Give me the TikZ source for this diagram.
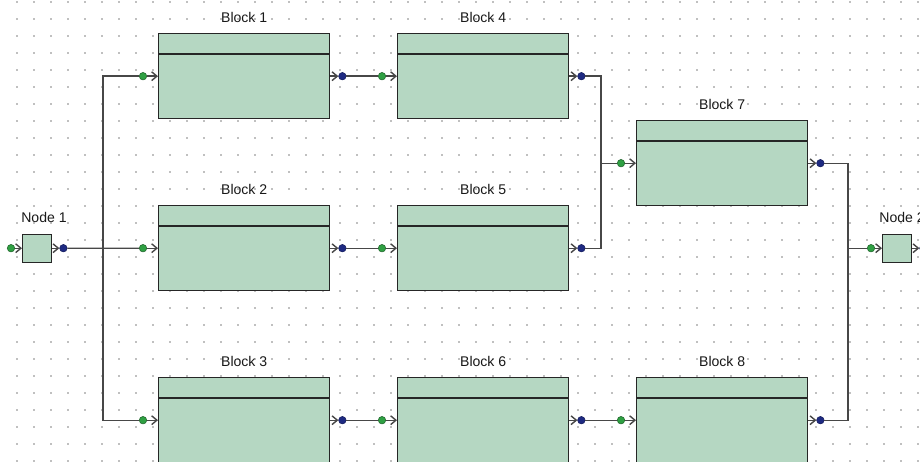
\documentclass[tikz,border=0pt]{standalone}
\usepackage{fontspec}
\setmainfont{Liberation Sans}
\usetikzlibrary{arrows.meta}
\definecolor{blockfill}{HTML}{B5D7C2}
\definecolor{wirec}{HTML}{474747}
\definecolor{inport}{HTML}{2FA043}
\definecolor{outport}{HTML}{1E2A82}
\definecolor{griddot}{HTML}{808080}
\newcommand{\rbdblock}[4]{%
  \node[blk, anchor=north west] (#1) at (#2,#3) {};
  \draw[divline] ([yshift=-0.42cm]#1.north west) -- ([yshift=-0.42cm]#1.north east);
  \node[lbl] (#1lbl) at ([yshift=0.32cm]#1.north) {#4};
  \node[indot] (#1in) at ([xshift=-0.30cm]#1.west) {};
  \node[outdot] (#1out) at ([xshift=0.24cm]#1.east) {};
  \draw[wire, -{Straight Barb[length=3pt,width=5pt]}] (#1in) -- (#1.west);
  \draw[wire, -{Straight Barb[length=3pt,width=5pt]}] (#1.east) -- (#1out);
}
\begin{document}
\begin{tikzpicture}[x=0.02cm, y=-0.02cm,
  blk/.style={draw=black!85, line width=0.8pt, fill=blockfill, inner sep=0pt,
              minimum width=3.42cm, minimum height=1.70cm},
  smallblk/.style={draw=black!85, line width=0.8pt, fill=blockfill, inner sep=0pt,
              minimum width=0.58cm, minimum height=0.56cm},
  divline/.style={draw=black!85, line width=0.8pt},
  wire/.style={draw=wirec, line width=0.8pt},
  lbl/.style={font=\fontsize{8}{9.6}\selectfont, text=black!90, inner sep=0pt},
  indot/.style={circle, fill=inport, draw=inport!60!black, line width=0.3pt, inner sep=0pt, minimum size=0.15cm},
  outdot/.style={circle, fill=outport, draw=outport!70!black, line width=0.3pt, inner sep=0pt, minimum size=0.15cm}
]
\useasboundingbox[fill=white] (0,0) rectangle (920,461);
% grid of dots
\foreach \i in {1,...,54}{
  \foreach \j in {0,...,27}{
    \fill[griddot] (17*\i,17*\j+2) circle (0.017cm);
  }
}
% blocks
\rbdblock{b1}{158}{33}{Block 1}
\rbdblock{b4}{397}{33}{Block 4}
\rbdblock{b7}{636}{120}{Block 7}
\rbdblock{b2}{158}{205}{Block 2}
\rbdblock{b5}{397}{205}{Block 5}
\rbdblock{b3}{158}{377}{Block 3}
\rbdblock{b6}{397}{377}{Block 6}
\rbdblock{b8}{636}{377}{Block 8}
% start and end nodes
\node[smallblk, anchor=north west] (n1) at (22,233.5) {};
\node[lbl, anchor=west] (n1lbl) at ([xshift=-0.02cm, yshift=0.32cm]n1.north west) {Node 1};
\node[indot] (n1in) at ([xshift=-0.22cm]n1.west) {};
\node[outdot] (n1out) at ([xshift=0.22cm]n1.east) {};
\draw[wire, -{Straight Barb[length=3pt,width=5pt]}] (n1in) -- (n1.west);
\draw[wire, -{Straight Barb[length=3pt,width=5pt]}] (n1.east) -- (n1out);
\node[smallblk, anchor=north west] (n2) at (882,233.5) {};
\node[lbl, anchor=west] (n2lbl) at ([xshift=-0.06cm, yshift=0.32cm]n2.north west) {Node 2};
\node[indot] (n2in) at ([xshift=-0.22cm]n2.west) {};
\node[outdot] (n2out) at ([xshift=0.22cm]n2.east) {};
\draw[wire, -{Straight Barb[length=3pt,width=5pt]}] (n2in) -- (n2.west);
\draw[wire, -{Straight Barb[length=3pt,width=5pt]}] (n2.east) -- (n2out);
% spine coordinates
\coordinate (sp1) at (103,246);
\coordinate (sp2) at (601,160);
\coordinate (sp3) at (848,246);
% connectors
\draw[wire] (n1out) -- (b2in);
\draw[wire] (b1in) -- (b1in -| sp1) -- (b3in -| sp1) -- (b3in);
\draw[wire] (b1out) -- (b4in);
\draw[wire] (b2out) -- (b5in);
\draw[wire] (b3out) -- (b6in);
\draw[wire] (b6out) -- (b8in);
\draw[wire] (b4out) -- (b4out -| sp2) -- (b5out -| sp2) -- (b5out);
\draw[wire] (b7in -| sp2) -- (b7in);
\draw[wire] (b7out) -- (b7out -| sp3) -- (b8out -| sp3) -- (b8out);
\draw[wire] (n2in -| sp3) -- (n2in);
\end{tikzpicture}
\end{document}
